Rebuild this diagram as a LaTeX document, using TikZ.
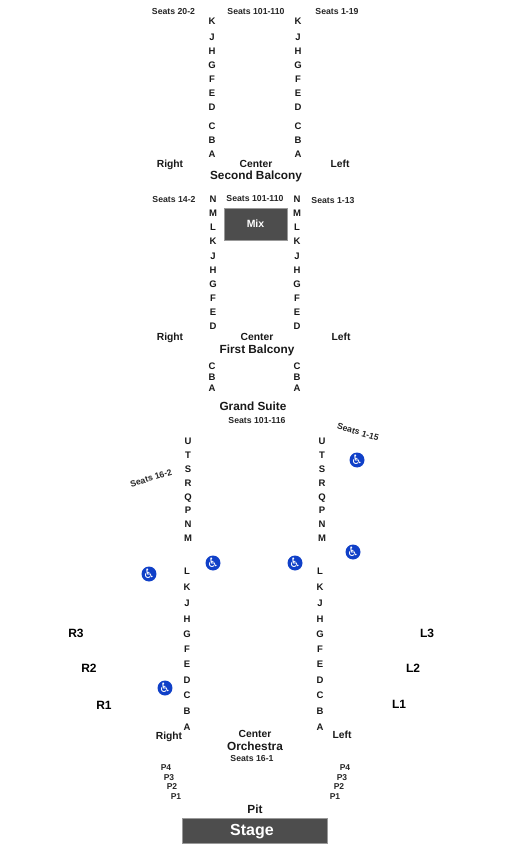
\documentclass[tikz,border=0pt]{standalone}
\usepackage{fontspec}
\setmainfont{Liberation Sans}
\newfontfamily\symfont{DejaVu Sans}
\usepackage{xcolor}
\definecolor{blockgray}{HTML}{4D4D4D}
\definecolor{accessblue}{HTML}{1040C8}

\begin{document}
\begin{tikzpicture}[
    x=1pt, y=-1pt,
    every node/.style={text depth=0pt},
    rowlabel/.style={font=\fontsize{9.5}{10}\selectfont\bfseries, inner sep=0pt, text=black!90},
    seatlabel/.style={font=\fontsize{8.7}{9}\selectfont\bfseries, inner sep=0pt, text=black!85},
    sidelabel/.style={font=\fontsize{10.3}{11}\selectfont\bfseries, inner sep=0pt, text=black!90},
    sectionlabel/.style={font=\fontsize{11.8}{13}\selectfont\bfseries, inner sep=0pt, text=black!90},
    pitlabel/.style={font=\fontsize{8.5}{9}\selectfont\bfseries, inner sep=0pt, text=black!85},
    block/.style={rectangle, draw=gray!80, fill=blockgray, text=white, font=\bfseries, inner sep=0pt},
    access/.style={circle, fill=accessblue, text=white, minimum size=14pt, inner sep=0pt,
                   font=\symfont\fontsize{13}{13}\selectfont}
]
\useasboundingbox (0,0) rectangle (525,850);

% Second Balcony
\foreach \row/\ypos in {K/21, J/37, H/51, G/65, F/79, E/93, D/107, C/126, B/140, A/154} {
    \node[rowlabel] (sbl\row) at (212,\ypos) {\row};
    \node[rowlabel] (sbr\row) at (298,\ypos) {\row};
}
\node[seatlabel] (sbseatsR) at (173.5,11) {Seats 20-2};
\node[seatlabel] (sbseatsC) at (256,11) {Seats 101-110};
\node[seatlabel] (sbseatsL) at (337,11) {Seats 1-19};
\node[sidelabel] (sbright) at (170,164) {Right};
\node[sidelabel] (sbcenter) at (256,164) {Center};
\node[sidelabel] (sbleft) at (340,164) {Left};
\node[sectionlabel] (sbtitle) at (256,175) {Second Balcony};

% First Balcony
\foreach \row/\ypos in {N/199, M/213, L/227, K/241, J/256, H/270, G/284, F/298, E/312, D/326} {
    \node[rowlabel] (fbl\row) at (213,\ypos) {\row};
    \node[rowlabel] (fbr\row) at (297,\ypos) {\row};
}
\node[seatlabel] (fbseatsR) at (174,199) {Seats 14-2};
\node[seatlabel] (fbseatsC) at (255,198) {Seats 101-110};
\node[seatlabel] (fbseatsL) at (333,200) {Seats 1-13};
\node[block, minimum width=63pt, minimum height=32pt, font=\fontsize{10.5}{11}\selectfont\bfseries] (mix) at (255.5,224) {Mix};
\node[sidelabel] (fbright) at (170,337) {Right};
\node[sidelabel] (fbcenter) at (257,337) {Center};
\node[sidelabel] (fbleft) at (341,337) {Left};
\node[sectionlabel] (fbtitle) at (257,349) {First Balcony};

% Grand Suite
\foreach \row/\ypos in {C/366, B/377, A/388} {
    \node[rowlabel] (gsl\row) at (212,\ypos) {\row};
    \node[rowlabel] (gsr\row) at (297,\ypos) {\row};
}
\node[sectionlabel] (gstitle) at (253,406) {Grand Suite};
\node[seatlabel] (gsseats) at (257,420) {Seats 101-116};

% Orchestra
\foreach \row/\ypos in {U/441, T/455, S/469, R/483, Q/497, P/510, N/524, M/538} {
    \node[rowlabel] (orl\row) at (188,\ypos) {\row};
    \node[rowlabel] (orr\row) at (322,\ypos) {\row};
}
\foreach \row/\ypos in {L/571, K/587, J/603, H/619, G/634, F/649, E/664, D/680, C/695, B/711, A/727} {
    \node[rowlabel] (orl\row) at (187,\ypos) {\row};
    \node[rowlabel] (orr\row) at (320,\ypos) {\row};
}
\node[seatlabel, rotate=-17] (orseatsL) at (358,432) {Seats 1-15};
\node[seatlabel, rotate=17] (orseatsR) at (151,478) {Seats 16-2};

\foreach \name/\xpos/\ypos in {a/357/460, b/353/552, c/295/563, d/213/563, e/149/574, f/165/688} {
    \node[access] (wheel\name) at (\xpos,\ypos) {♿};
}

\foreach \lbl/\xpos/\ypos in {R3/76/633, R2/89/668, R1/104/705, L3/427/633, L2/413/668, L1/399/704} {
    \node[font=\fontsize{12}{12}\selectfont\bfseries, inner sep=0pt] (box\lbl) at (\xpos,\ypos) {\lbl};
}
\node[sidelabel] (orright) at (169,736) {Right};
\node[sidelabel] (orleft) at (342,735) {Left};
\node[sidelabel] (orcenter) at (255,734) {Center};
\node[sectionlabel] (ortitle) at (255,746) {Orchestra};
\node[seatlabel] (orseats) at (252,758) {Seats 16-1};

% Pit and stage
\foreach \lbl/\xr/\xl/\ypos in {P4/166/345/768, P3/169/342/778, P2/172/339/787, P1/176/335/797} {
    \node[pitlabel] (pitr\lbl) at (\xr,\ypos) {\lbl};
    \node[pitlabel] (pitl\lbl) at (\xl,\ypos) {\lbl};
}
\node[sectionlabel] (pit) at (255,809) {Pit};
\node[block, minimum width=145pt, minimum height=25pt] (stageblock) at (254.5,830.5) {};
\node[text=white, font=\fontsize{16}{16}\selectfont\bfseries, inner sep=0pt] (stage) at (252,830) {Stage};
\end{tikzpicture}
\end{document}
